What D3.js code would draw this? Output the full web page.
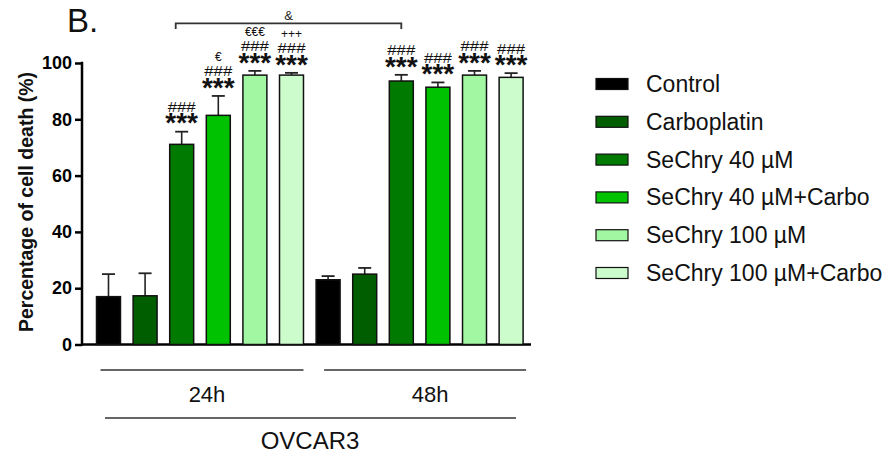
<!DOCTYPE html>
<html>
<head>
<meta charset="utf-8">
<script src="https://cdn.jsdelivr.net/npm/d3@7"></script>
<style>
  html, body { margin: 0; padding: 0; background: #fff; }
  svg { display: block; }
  text { font-family: "Liberation Sans", Arial, sans-serif; }
</style>
</head>
<body>
<svg id="chart" width="895" height="454"></svg>
<script>
// ---- data ----
const times = ["24h", "48h"];
const cellLine = "OVCAR3";
const treatments = ["Control", "Carboplatin", "SeChry 40 \u00b5M", "SeChry 40 \u00b5M+Carbo", "SeChry 100 \u00b5M", "SeChry 100 \u00b5M+Carbo"];
const colors = ["#000000", "#005e00", "#007a00", "#00c200", "#a2f8a2", "#ccfccc"];
const means24 = [17.0, 17.3, 71.1, 81.4, 95.7, 95.7];
const errs24  = [8.0, 8.0, 4.5, 6.9, 1.5, 0.8];
const means48 = [23.0, 25.0, 93.6, 91.4, 95.7, 94.9];
const errs48  = [1.3, 2.2, 2.2, 1.7, 1.5, 1.5];
const stars24 = ["", "", "***", "***", "***", "***"];
const hash24  = ["", "", "###", "###", "###", "###"];
const extra24 = ["", "", "", "\u20ac", "\u20ac\u20ac\u20ac", "+++"];
const stars48 = ["", "", "***", "***", "***", "***"];
const hash48  = ["", "", "###", "###", "###", "###"];
const extra48 = ["", "", "", "", "", ""];
const yTicks = [0, 20, 40, 60, 80, 100];
const yLabel = "Percentage of cell death (%)";
const panelLabel = "B.";
const bracketLabel = "&";

// ---- build bars ----
const bars = [];
times.forEach((t, gi) => {
  const m = gi === 0 ? means24 : means48;
  const e = gi === 0 ? errs24 : errs48;
  const s = gi === 0 ? stars24 : stars48;
  const h = gi === 0 ? hash24 : hash48;
  const x = gi === 0 ? extra24 : extra48;
  treatments.forEach((tr, ti) => {
    bars.push({ idx: gi * treatments.length + ti, time: t, treat: tr, ti, mean: m[ti], err: e[ti], star: s[ti], hash: h[ti], extra: x[ti] });
  });
});

const svg = d3.select("#chart");

const xScale = d3.scaleBand()
  .domain(bars.map(d => d.idx))
  .range([96.5, 523.1])
  .paddingInner(0.345)
  .paddingOuter(0);
const bw = xScale.bandwidth();

const yScale = d3.scaleLinear().domain([0, 100]).range([344.5, 63]);

// y axis
const yAxis = d3.axisLeft(yScale).tickValues(yTicks).tickSize(7).tickPadding(3);
const gy = svg.append("g").attr("transform", "translate(82,0)").call(yAxis);
gy.select(".domain").remove();
gy.selectAll(".tick line").attr("stroke", "#000").attr("stroke-width", 2.5);
gy.selectAll(".tick text").attr("font-size", 18).attr("font-weight", "bold").attr("fill", "#000")
  .attr("font-family", "Liberation Sans, Arial, sans-serif");
svg.append("line").attr("x1", 82).attr("x2", 82).attr("y1", yScale(100) - 1.2).attr("y2", yScale(0) + 1.2)
  .attr("stroke", "#000").attr("stroke-width", 2.5);
// x axis baseline
svg.append("line").attr("x1", 81).attr("x2", 531).attr("y1", yScale(0)).attr("y2", yScale(0))
  .attr("stroke", "#000").attr("stroke-width", 2.5);

// y label
svg.append("text")
  .attr("transform", `translate(33,202) rotate(-90)`)
  .attr("text-anchor", "middle")
  .attr("font-size", 19.5).attr("font-weight", "bold").attr("fill", "#111")
  .text(yLabel);

// panel label
svg.append("text").attr("x", 67).attr("y", 32).attr("font-size", 33).attr("fill", "#111").text(panelLabel);

// error bars
const eg = svg.append("g");
bars.forEach(d => {
  const cx = xScale(d.idx) + bw / 2;
  eg.append("line").attr("x1", cx).attr("x2", cx).attr("y1", yScale(d.mean)).attr("y2", yScale(d.mean + d.err))
    .attr("stroke", "#222").attr("stroke-width", 1.6);
  eg.append("line").attr("x1", cx - 6.5).attr("x2", cx + 6.5).attr("y1", yScale(d.mean + d.err)).attr("y2", yScale(d.mean + d.err))
    .attr("stroke", "#222").attr("stroke-width", 1.8);
});

// bars
svg.append("g").selectAll("rect").data(bars).join("rect")
  .attr("x", d => xScale(d.idx))
  .attr("y", d => yScale(d.mean))
  .attr("width", bw)
  .attr("height", d => yScale(0) - yScale(d.mean))
  .attr("fill", d => colors[d.ti])
  .attr("stroke", "#111").attr("stroke-width", 1.5);

// annotations
const ag = svg.append("g");
bars.forEach(d => {
  const cx = xScale(d.idx) + bw / 2;
  const top = yScale(d.mean + d.err);
  const starC = top - 11;
  const hashC = starC - 14;
  const extraC = hashC - 14.5;
  if (d.star) ag.append("text").attr("x", cx).attr("y", starC + 11.7).attr("text-anchor", "middle")
    .attr("font-size", 28).attr("font-weight", "bold").attr("fill", "#111").text(d.star);
  if (d.hash) ag.append("text").attr("x", cx).attr("y", hashC + 5.5).attr("text-anchor", "middle")
    .attr("font-size", 15.5).attr("fill", "#111")
    .attr("textLength", 28).attr("lengthAdjust", "spacingAndGlyphs").text(d.hash);
  if (d.extra) ag.append("text").attr("x", cx).attr("y", extraC + 4.2).attr("text-anchor", "middle")
    .attr("font-size", 12).attr("fill", "#111").text(d.extra);
});

// bracket between 24h and 48h SeChry 40
const bx1 = xScale(2) + bw * 0.25, bx2 = xScale(8) + bw / 2;
svg.append("path").attr("d", `M${bx1},29 V23.3 H${bx2} V29`).attr("fill", "none").attr("stroke", "#333").attr("stroke-width", 1.8);
svg.append("text").attr("x", (bx1 + bx2) / 2).attr("y", 19.5).attr("text-anchor", "middle").attr("font-size", 13).attr("fill", "#222").text(bracketLabel);

// group lines and labels
times.forEach((t, gi) => {
  const first = xScale(gi * 6), last = xScale(gi * 6 + 5) + bw;
  const lx1 = first + (gi === 0 ? 4 : 8), lx2 = last + (gi === 0 ? 0 : 3);
  svg.append("line").attr("x1", lx1).attr("x2", lx2).attr("y1", 370).attr("y2", 370)
    .attr("stroke", "#333").attr("stroke-width", 1.3);
  svg.append("text").attr("x", (lx1 + lx2) / 2 + 5).attr("y", 402).attr("text-anchor", "middle")
    .attr("font-size", 22).attr("fill", "#111").text(t);
});
svg.append("line").attr("x1", 105).attr("x2", 516).attr("y1", 418).attr("y2", 418).attr("stroke", "#333").attr("stroke-width", 1.3);
svg.append("text").attr("x", 310).attr("y", 449).attr("text-anchor", "middle").attr("font-size", 24).attr("fill", "#111").text(cellLine);

// legend
const lg = svg.append("g");
treatments.forEach((tr, i) => {
  const cy = 84 + 37.8 * i;
  lg.append("rect").attr("x", 596).attr("y", cy - 5.5).attr("width", 32).attr("height", 11)
    .attr("fill", colors[i]).attr("stroke", "#111").attr("stroke-width", 1.2);
  lg.append("text").attr("x", 646).attr("y", cy + 8).attr("font-size", 23).attr("fill", "#111").text(tr);
});
</script>
</body>
</html>
